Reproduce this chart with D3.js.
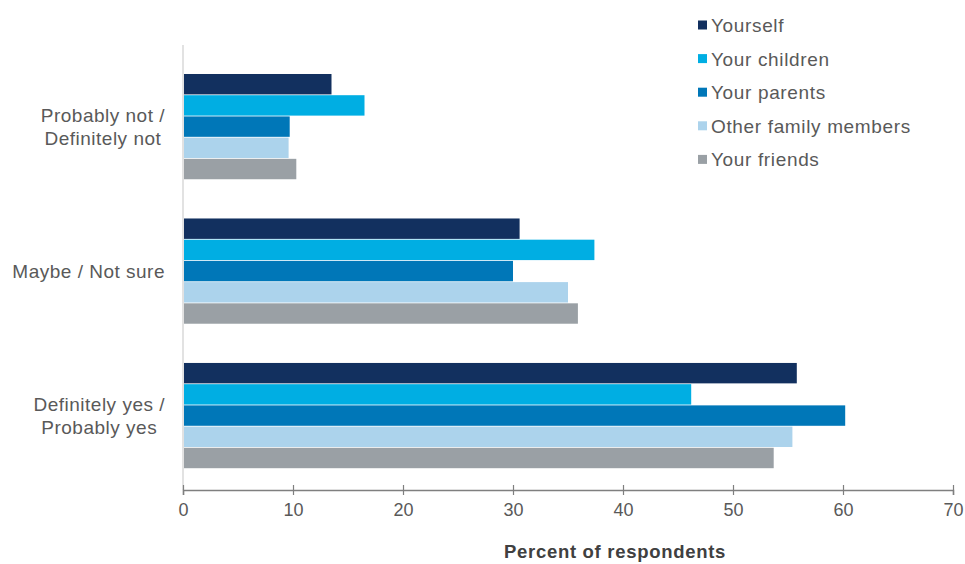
<!DOCTYPE html>
<html>
<head>
<meta charset="utf-8">
<script src="https://cdn.jsdelivr.net/npm/d3@7"></script>
<style>
  body { margin: 0; background: #fff; }
  text { font-family: "Liberation Sans", Arial, sans-serif; fill: #595959; }
  .tick text { font-family: "Liberation Sans Narrow", "Liberation Sans", Arial, sans-serif; }
</style>
</head>
<body>
<svg width="965" height="564"></svg>
<script>
var categories = ["Probably not / Definitely not", "Maybe / Not sure", "Definitely yes / Probably yes"];
var categoryLines = [["Probably not /", "Definitely not"], ["Maybe / Not sure"], ["Definitely yes /", "Probably yes"]];
var series = ["Yourself", "Your children", "Your parents", "Other family members", "Your friends"];
var colors = ["#12305f", "#00aee3", "#0077b8", "#acd3ec", "#9aa0a5"];

var yourself = [13.5, 30.6, 55.8];
var children = [16.5, 37.4, 46.2];
var parents = [9.7, 30.0, 60.2];
var otherFamily = [9.6, 35.0, 55.4];
var friends = [10.3, 35.9, 53.7];
var xTicks = [0, 10, 20, 30, 40, 50, 60, 70];

var values = [yourself, children, parents, otherFamily, friends];

var data = categories.map(function(c, i) {
  return { cat: c, vals: series.map(function(s, j) { return { key: s, value: values[j][i], color: colors[j] }; }) };
});

var svg = d3.select("svg"),
    left = 183, right = 953, axisY = 490;

var x = d3.scaleLinear().domain([0, 70]).range([left, right]);

var y = d3.scaleBand()
  .domain(categories)
  .range([49, 494])
  .paddingInner(0.266)
  .paddingOuter(0.173);

var y1 = d3.scaleBand().domain(series).range([0, y.bandwidth()]);

// vertical axis line
svg.append("line")
  .attr("x1", left).attr("x2", left)
  .attr("y1", 45).attr("y2", axisY)
  .attr("stroke", "#d9d9d9").attr("stroke-width", 1.5);

var groups = svg.selectAll(".grp")
  .data(data)
  .enter().append("g")
  .attr("class", "grp")
  .attr("transform", function(d) { return "translate(0," + y(d.cat) + ")"; });

groups.selectAll("rect")
  .data(function(d) { return d.vals; })
  .enter().append("rect")
  .attr("x", x(0) + 1)
  .attr("y", function(d) { return y1(d.key); })
  .attr("width", function(d) { return x(d.value) - x(0) - 1; })
  .attr("height", y1.bandwidth() - 0.8)
  .attr("fill", function(d) { return d.color; });

// x axis
var xAxis = svg.append("g")
  .attr("transform", "translate(0," + axisY + ")")
  .call(d3.axisBottom(x).tickValues(xTicks).tickSize(5).tickPadding(8));
xAxis.select(".domain").attr("stroke", "#7f7f7f").attr("stroke-width", 1.5);
xAxis.selectAll(".tick line").attr("stroke", "#7f7f7f").attr("y1", -5).attr("stroke-width", 1.2);
xAxis.selectAll(".tick text").attr("font-size", 18).style("fill", "#595959");

svg.append("text")
  .attr("x", 615).attr("y", 558)
  .attr("text-anchor", "middle")
  .attr("font-size", 18.5).attr("font-weight", "bold")
  .attr("letter-spacing", 0.7)
  .style("fill", "#404040")
  .text("Percent of respondents");

// category labels: block right aligned, lines centered within block
categoryLines.forEach(function(lines, i) {
  var cy = y(categories[i]) + y.bandwidth() / 2;
  var t = svg.append("text")
    .attr("font-size", 19).attr("letter-spacing", 0.5)
    .attr("text-anchor", "middle");
  var spans = lines.map(function(l, k) {
    return t.append("tspan").attr("y", cy + 6.5 + (k - (lines.length - 1) / 2) * 23).text(l);
  });
  var w = d3.max(spans, function(s) { return s.node().getComputedTextLength(); });
  spans.forEach(function(s) { s.attr("x", 165 - w / 2); });
});

// legend
var legend = svg.selectAll(".leg")
  .data(series)
  .enter().append("g")
  .attr("class", "leg")
  .attr("transform", function(d, i) { return "translate(698," + (25 + i * 33.6) + ")"; });

legend.append("rect")
  .attr("x", 0).attr("y", -4.5)
  .attr("width", 9).attr("height", 9)
  .attr("fill", function(d, i) { return colors[i]; });

legend.append("text")
  .attr("x", 13).attr("y", 7)
  .attr("font-size", 19).attr("letter-spacing", 0.65)
  .text(function(d) { return d; });
</script>
</body>
</html>
